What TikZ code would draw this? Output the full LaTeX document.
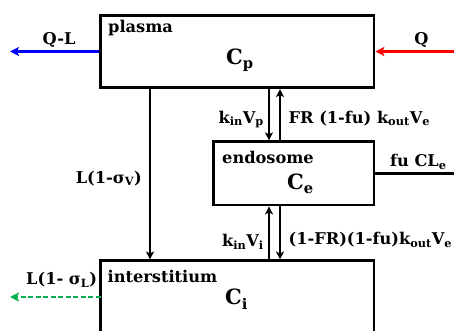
\documentclass[tikz,border=0pt]{standalone}
\usepackage{fontspec}
\setmainfont{DejaVu Serif}
\usetikzlibrary{arrows.meta,positioning,calc}
\definecolor{qblue}{rgb}{0,0,1}
\definecolor{qred}{rgb}{1,0,0}
\definecolor{lymphgreen}{RGB}{0,176,80}
\newcommand{\sub}[1]{\textsubscript{#1}}

\begin{document}
\begin{tikzpicture}[x=1pt, y=1pt, >={Stealth[length=8pt,width=8pt,inset=2pt]},
    font=\fontsize{16.2}{19}\selectfont\bfseries,
    comp/.style={draw, line width=2.7pt, inner sep=0pt},
    flow/.style={->, line width=2.4pt},
    ext/.style={->, line width=2.6pt, >={Stealth[length=9pt,width=9pt,inset=2pt]}},
    lbl/.style={inner sep=0pt},
    conc/.style={inner sep=0pt, font=\fontsize{21}{25}\selectfont\bfseries}]
  \useasboundingbox (0,0) rectangle (454,331);
  \clip (0,0) rectangle (454,331);
  % compartments
  \node[comp, minimum width=273.3pt, minimum height=72.4pt] (plasma) at (237.35,279.5) {};
  \node[comp, minimum width=160.3pt, minimum height=63.3pt] (endo) at (293.85,157.65) {};
  \node[comp, minimum width=273.3pt, minimum height=100pt] (inter) at (237.35,20.2) {};
  \node[lbl, anchor=base west] (plasmat) at (108,298.3) {plasma};
  \node[lbl, anchor=base west] (endot) at (222,167.7) {endosome};
  \node[lbl, anchor=base west] (intert) at (107.5,48.7) {interstitium};
  \node[conc, anchor=base west] (cp) at (226,266) {C\sub{p}};
  \node[conc, anchor=base west] (ce) at (287,141) {C\sub{e}};
  \node[conc, anchor=base west] (ci) at (225,26) {C\sub{i}};
  % free ends
  \coordinate (qlend) at (10,279.5);
  \coordinate (qstart) at (454,279.5);
  \coordinate (clend) at (454,157.65);
  \coordinate (lymphout) at (100.7,34);
  \coordinate (lymphend) at (10,34);
  \coordinate (vx) at (150,0);
  \coordinate (inx) at (269,0);
  \coordinate (outx) at (280,0);
  % flows
  \draw[ext, qblue] (plasma.west) -- (qlend);
  \draw[ext, qred] (qstart) -- (plasma.east);
  \draw[ext, lymphgreen, dash pattern=on 5pt off 2.5pt] (lymphout) -- (lymphend);
  \draw[line width=2.6pt] (endo.east) -- (clend);
  \draw[flow] (vx |- plasma.south) -- (vx |- inter.north);
  \draw[flow] (inx |- plasma.south) -- (inx |- endo.north);
  \draw[flow] (outx |- endo.north) -- (outx |- plasma.south);
  \draw[flow] (inx |- inter.north) -- (inx |- endo.south);
  \draw[flow] (outx |- endo.south) -- (outx |- inter.north);
  % rates
  \node[lbl, anchor=base] (qlt) at (59,286.7) {Q-L};
  \node[lbl, anchor=base] (qt) at (421.5,286) {Q};
  \node[lbl, anchor=base west] (clt) at (390,164.3) {fu CL\sub{e}};
  \node[lbl, anchor=base east] (sigvt) at (142,147.7) {L(1-σ\sub{V})};
  \node[lbl, anchor=base west] (siglt) at (26,46) {L(1- σ\sub{L})};
  \node[lbl, anchor=base east] (kvp) at (264,207.7) {k\sub{in}V\sub{p}};
  \node[lbl, anchor=base west] (krec) at (288.5,207.7) {FR (1-fu) k\sub{out}V\sub{e}};
  \node[lbl, anchor=base east] (kvi) at (264,84.3) {k\sub{in}V\sub{i}};
  \node[lbl, anchor=base west] (kret) at (288.5,86) {(1-FR)(1-fu)k\sub{out}V\sub{e}};
\end{tikzpicture}
\end{document}
